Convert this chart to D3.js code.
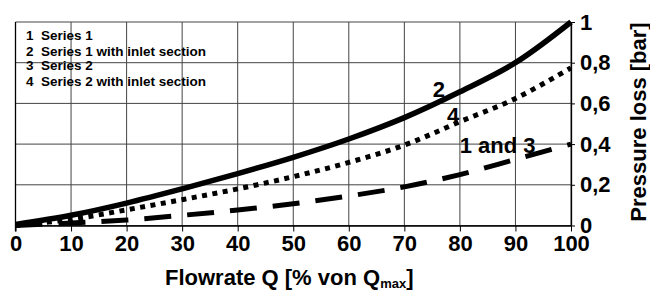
<!DOCTYPE html>
<html lang="en">
<head>
<meta charset="UTF-8">
<title>Pressure loss</title>
<script src="https://cdn.jsdelivr.net/npm/d3@7"></script>
<style>
    body { margin: 0; background: #fff; }
    text { font-family: "Liberation Sans", Arial, sans-serif; font-weight: bold; fill: #000; }
    .grid line { stroke: #444; stroke-width: 1; }
    .axis path, .axis line { stroke: #000; }
</style>
</head>
<body>
<script>
    // flowrate in % of Qmax
    var flow = [0, 10, 20, 30, 40, 50, 60, 70, 80, 90, 100];
    // pressure loss [bar]
    var series1Inlet = [0.005, 0.05, 0.11, 0.18, 0.255, 0.335, 0.425, 0.53, 0.657, 0.80, 1.0];    // curve 2
    var series2Inlet = [0, 0.03, 0.077, 0.127, 0.18, 0.24, 0.31, 0.395, 0.51, 0.624, 0.775];     // curve 4
    var series1and3 = [0, 0.012, 0.027, 0.05, 0.076, 0.107, 0.145, 0.19, 0.25, 0.325, 0.40];     // curves 1 and 3

    var xTicks = [0, 10, 20, 30, 40, 50, 60, 70, 80, 90, 100];
    var yTicks = [0, 0.2, 0.4, 0.6, 0.8, 1];
    var legendItems = ["Series 1", "Series 1 with inlet section", "Series 2", "Series 2 with inlet section"];

    var width = 650, height = 290;
    var plotL = 15.5, plotR = 571, plotT = 22, plotB = 225.5;

    var svg = d3.select("body").append("svg")
        .attr("width", width)
        .attr("height", height);

    var x = d3.scaleLinear().domain([0, 100]).range([plotL, plotR]);
    var y = d3.scaleLinear().domain([0, 1]).range([plotB, plotT]);

    // grid
    var grid = svg.append("g").attr("class", "grid");
    grid.selectAll(".v").data(xTicks).enter().append("line")
        .attr("x1", function (d) { return x(d); })
        .attr("x2", function (d) { return x(d); })
        .attr("y1", plotT)
        .attr("y2", plotB);
    grid.selectAll(".h").data(yTicks).enter().append("line")
        .attr("x1", plotL)
        .attr("x2", plotR)
        .attr("y1", function (d) { return y(d); })
        .attr("y2", function (d) { return y(d); });

    // axes
    var xAxis = d3.axisBottom(x).tickValues(xTicks).tickSize(6).tickPadding(3.5).tickSizeOuter(0);
    svg.append("g").attr("class", "axis")
        .attr("transform", "translate(0," + plotB + ")")
        .call(xAxis)
        .call(function (g) { g.select(".domain").attr("stroke-width", 1.3); })
        .selectAll("text").style("font-size", "22px");

    var yAxis = d3.axisRight(y).tickValues(yTicks).tickSize(4).tickPadding(5).tickSizeOuter(0)
        .tickFormat(function (d) { return String(d).replace(".", ","); });
    svg.append("g").attr("class", "axis")
        .attr("transform", "translate(" + plotR + ",0)")
        .call(yAxis)
        .call(function (g) { g.select(".domain").attr("stroke-width", 1.3); })
        .selectAll("text").style("font-size", "22px");

    // left edge with a short tick below
    svg.append("line").attr("x1", plotL).attr("x2", plotL).attr("y1", plotT).attr("y2", plotB + 6)
        .attr("stroke", "#000").attr("stroke-width", 1.3);

    // curves
    var line = function (vals) {
        return d3.line()
            .x(function (d, i) { return x(flow[i]); })
            .y(function (d) { return y(d); })
            .curve(d3.curveCatmullRom)(vals);
    };

    svg.append("path").attr("d", line(series1and3))
        .attr("fill", "none").attr("stroke", "#000").attr("stroke-width", 5)
        .attr("stroke-dasharray", "27,16");
    svg.append("path").attr("d", line(series2Inlet))
        .attr("fill", "none").attr("stroke", "#000").attr("stroke-width", 5)
        .attr("stroke-dasharray", "5,5.5");
    svg.append("path").attr("d", line(series1Inlet))
        .attr("fill", "none").attr("stroke", "#000").attr("stroke-width", 5.5);

    // curve labels
    var curveLabels = [
        { text: "2", q: 76.2, p: 0.631 },
        { text: "4", q: 78.8, p: 0.504 },
        { text: "1 and 3", q: 86.8, p: 0.356 }
    ];
    svg.selectAll(".clabel").data(curveLabels).enter().append("text")
        .attr("x", function (d) { return x(d.q); })
        .attr("y", function (d) { return y(d.p); })
        .attr("text-anchor", "middle")
        .style("font-size", "22px")
        .text(function (d) { return d.text; });

    // legend block
    var lg = svg.append("g");
    var rowY = [40, 55.5, 69.5, 85.5];
    legendItems.forEach(function (t, i) {
        lg.append("text").attr("x", 26).attr("y", rowY[i]).style("font-size", "13.5px").text(i + 1);
        lg.append("text").attr("x", 41).attr("y", rowY[i]).style("font-size", "13.5px").text(t);
    });

    // axis titles
    var xt = svg.append("text")
        .attr("x", 165)
        .attr("y", 285)
        .style("font-size", "22px");
    xt.append("tspan").text("Flowrate Q [% von Q");
    xt.append("tspan").attr("dy", 3).style("font-size", "13px").text("max");
    xt.append("tspan").attr("dy", -3).text("]");

    svg.append("text")
        .attr("transform", "translate(646,122) rotate(-90)")
        .attr("text-anchor", "middle")
        .style("font-size", "22px")
        .text("Pressure loss [bar]");
</script>
</body>
</html>
